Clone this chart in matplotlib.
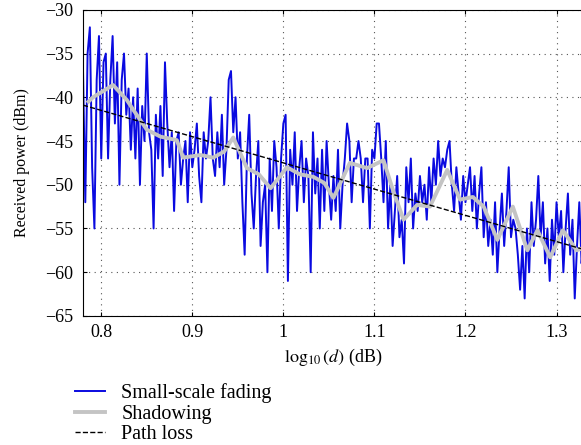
import matplotlib
matplotlib.use('Agg')
import matplotlib.pyplot as plt
import numpy as np

plt.rcParams['font.family'] = ['Liberation Serif', 'DejaVu Serif']
plt.rcParams['mathtext.fontset'] = 'stix'

# small-scale fading, one value every 0.0025 from 0.78 to 1.33
fading = [
    -37, -52, -35, -32, -48, -55, -38, -33, -47, -36,
    -35, -47, -38, -33, -43, -36, -50, -38, -35, -42,
    -39, -46, -40, -47, -39, -50, -41, -45, -35, -44,
    -46, -55, -42, -47, -41, -49, -36, -43, -48, -44,
    -53, -45, -44, -50, -47, -45, -52, -44, -48, -46,
    -43, -49, -52, -44, -47, -45, -40, -47, -49, -44,
    -48, -42, -50, -46, -38, -37, -44, -40, -47, -44,
    -52, -58, -47, -42, -51, -55, -49, -45, -57, -52,
    -50, -60, -47, -53, -45, -48, -55, -47, -43, -42,
    -61, -46, -50, -44, -53, -48, -45, -52, -47, -49,
    -60, -44, -51, -47, -55, -46, -53, -45, -50, -54,
    -49, -53, -46, -55, -50, -47, -43, -45, -52, -47,
    -47, -45, -47, -52, -47, -47, -55, -46, -47, -43,
    -43, -47, -52, -45, -55, -50, -57, -53, -49, -56,
    -54, -59, -48, -52, -47, -55, -51, -53, -49, -52,
    -50, -54, -48, -52, -47, -50, -45, -49, -47, -48,
    -46, -45, -50, -53, -48, -51, -54, -49, -52, -50,
    -48, -53, -49, -55, -51, -48, -56, -52, -57, -54,
    -58, -52, -60, -55, -51, -57, -53, -48, -56, -54,
    -55, -58, -62, -57, -63, -55, -60, -52, -57, -54,
    -49, -56, -52, -59, -55, -61, -54, -58, -52, -56,
    -53, -60, -55, -51, -58, -54, -63, -57, -52, -59,
    -56,
]
fading_x = np.linspace(0.78, 1.33, len(fading))

# shadowing (local mean)
shadow_x = [0.786, 0.791, 0.813, 0.828, 0.835, 0.850, 0.865, 0.883, 0.890,
            0.909, 0.923, 0.935, 0.945, 0.960, 0.973, 0.986, 1.004, 1.018,
            1.033, 1.045, 1.055, 1.073, 1.092, 1.110, 1.120, 1.132, 1.147,
            1.161, 1.180, 1.194, 1.208, 1.220, 1.235, 1.252, 1.268, 1.279,
            1.293, 1.307, 1.322, 1.330]
shadow_y = [-40.5, -40.0, -38.6, -40.3, -41.4, -43.7, -44.5, -44.9, -46.9,
            -46.6, -46.9, -46.2, -44.6, -48.1, -48.8, -50.4, -48.0, -48.8,
            -49.1, -49.8, -51.5, -47.5, -48.1, -47.2, -50.5, -54.0, -52.3,
            -52.5, -48.3, -51.7, -51.4, -52.5, -56.3, -52.5, -57.5, -55.2,
            -58.3, -55.2, -57.5, -57.2]

# path loss
path_x = [0.78, 1.33]
path_y = [-40.9, -57.4]

fig = plt.figure(figsize=(5.81, 4.45), dpi=100)
ax = fig.add_axes([0.1429, 0.290, 0.862, 0.688])

ax.plot(fading_x, fading, color='#0a0ae0', linewidth=1.4, label='Small-scale fading')
ax.plot(shadow_x, shadow_y, color='#c4c4c4', linewidth=2.8, label='Shadowing')
ax.plot(path_x, path_y, color='black', linestyle='--', linewidth=1.0, label='Path loss')

ax.set_xlim(0.78, 1.33)
ax.set_ylim(-65, -30)
ax.set_xticks([0.8, 0.9, 1.0, 1.1, 1.2, 1.3])
ax.set_xticklabels(['0.8', '0.9', '1', '1.1', '1.2', '1.3'])
ax.set_yticks(np.arange(-65, -29, 5))
ax.grid(True, color='#555555', linestyle=(0, (1, 4)), linewidth=0.8)
ax.tick_params(direction='in', top=True, right=True, labelsize=13, length=3)
ax.tick_params(axis='y', pad=7)
ax.tick_params(axis='x', pad=6)

ax.set_xlabel(r'$\log_{10}(d)$ (dB)', fontsize=13, labelpad=4)
ax.set_ylabel('Received power (dBm)', fontsize=11.5, labelpad=11)

fig.legend(loc='upper left', bbox_to_anchor=(0.129, 0.139), frameon=False,
           fontsize=14.5, handlelength=1.5, labelspacing=0.08, handletextpad=0.8,
           borderpad=0, borderaxespad=0)

fig.savefig('out.png', dpi=100)
plt.close(fig)
